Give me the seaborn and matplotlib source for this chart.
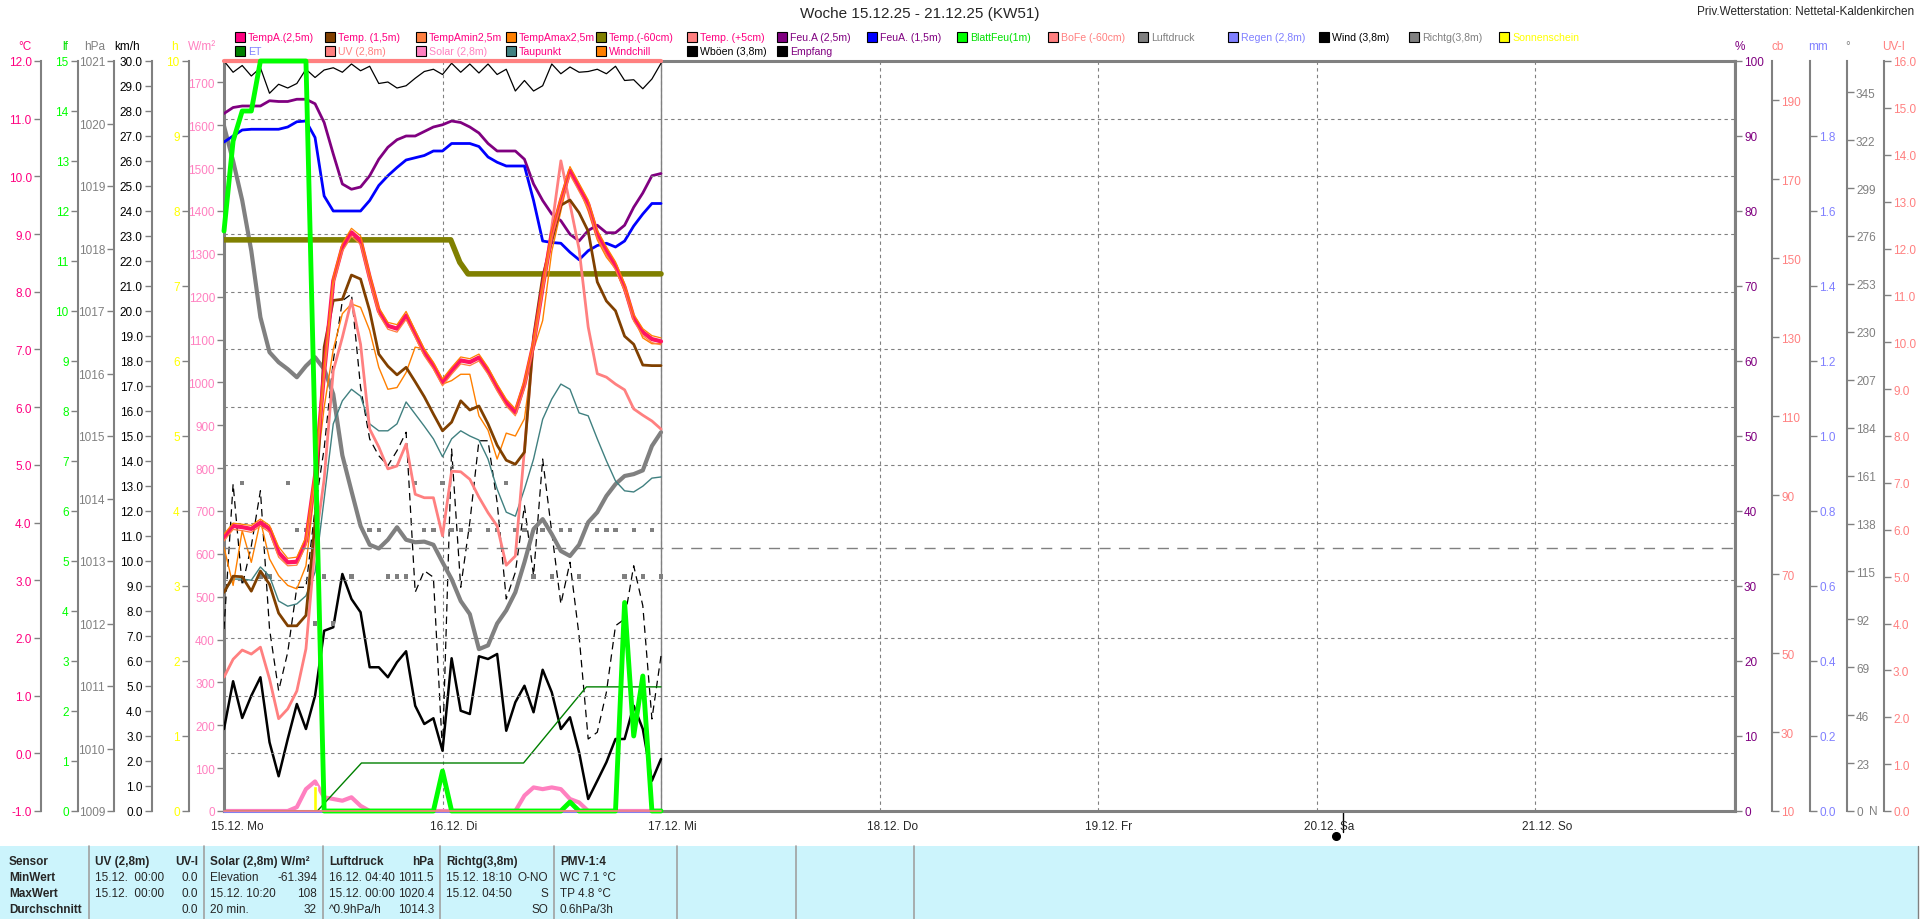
import numpy as np
import pandas as pd
import matplotlib
matplotlib.use("Agg")
import matplotlib.pyplot as plt
import matplotlib.transforms as mtransforms
from matplotlib.patches import Rectangle
from matplotlib.lines import Line2D
import seaborn as sns

# ==========================================
# DATA (hourly values 15.12. 00:00 - 17.12. 00:00)
# ==========================================
HOURS = list(range(49))

TEMP_A = [3.74, 3.94, 3.92, 3.89, 4.00, 3.89, 3.48, 3.31, 3.32, 3.68, 4.81, 6.61, 8.19, 8.77, 9.03, 8.89, 8.25,
          7.67, 7.41, 7.36, 7.59, 7.27, 6.95, 6.72, 6.43, 6.63, 6.81, 6.78, 6.86, 6.63, 6.34, 6.08, 5.91, 6.40,
          7.10, 8.08, 9.00, 9.58, 10.10, 9.81, 9.52, 9.00, 8.71, 8.45, 8.08, 7.55, 7.30, 7.18, 7.14]
TEMP_AMAX = [3.80, 3.99, 3.97, 3.95, 4.06, 3.95, 3.58, 3.38, 3.40, 3.75, 4.90, 6.70, 8.26, 8.84, 9.10, 8.97, 8.32,
             7.73, 7.47, 7.43, 7.66, 7.33, 7.01, 6.78, 6.49, 6.69, 6.87, 6.84, 6.92, 6.69, 6.40, 6.14, 5.97, 6.47,
             7.18, 8.15, 9.07, 9.65, 10.17, 9.88, 9.59, 9.07, 8.78, 8.52, 8.14, 7.61, 7.36, 7.24, 7.20]
TEMP_AMIN = [3.68, 3.88, 3.86, 3.83, 3.94, 3.83, 3.40, 3.25, 3.26, 3.60, 4.70, 6.50, 8.12, 8.70, 8.96, 8.82, 8.18,
             7.61, 7.35, 7.30, 7.52, 7.21, 6.89, 6.66, 6.37, 6.57, 6.75, 6.72, 6.80, 6.57, 6.28, 6.02, 5.85, 6.33,
             7.02, 8.00, 8.93, 9.51, 10.03, 9.74, 9.45, 8.93, 8.64, 8.38, 8.02, 7.49, 7.24, 7.12, 7.08]
TEMP_15 = [2.79, 3.07, 3.06, 2.81, 3.16, 2.93, 2.43, 2.21, 2.21, 2.39, 4.00, 7.04, 7.85, 7.87, 8.29, 8.22, 7.67,
           6.92, 6.71, 6.56, 6.69, 6.44, 6.18, 5.88, 5.59, 5.74, 6.11, 5.95, 6.02, 5.71, 5.34, 5.08, 5.01, 5.22,
           7.22, 8.26, 8.88, 9.50, 9.59, 9.37, 9.05, 8.17, 7.84, 7.67, 7.23, 7.09, 6.73, 6.72, 6.72]
TEMP_5CM = [1.32, 1.63, 1.79, 1.72, 1.84, 1.29, 0.60, 0.77, 1.08, 1.81, 3.59, 4.75, 6.63, 7.21, 7.85, 7.09, 5.62,
            5.31, 4.93, 4.98, 5.36, 4.49, 4.43, 4.43, 3.77, 4.89, 4.88, 4.75, 4.44, 4.17, 3.94, 3.26, 3.42, 5.27,
            7.15, 8.05, 9.12, 10.27, 9.52, 8.74, 7.39, 6.58, 6.52, 6.40, 6.30, 5.97, 5.86, 5.76, 5.62]
TAUPUNKT = [2.79, 3.02, 3.02, 3.00, 3.23, 3.07, 2.64, 2.55, 2.59, 2.73, 3.14, 4.41, 5.71, 6.11, 6.31, 6.19, 5.71,
            5.59, 5.59, 5.71, 6.09, 5.88, 5.67, 5.45, 5.14, 5.45, 5.59, 5.50, 5.43, 5.10, 4.58, 4.18, 4.11, 4.58,
            5.10, 5.79, 6.14, 6.40, 6.31, 5.90, 5.85, 5.45, 5.07, 4.72, 4.55, 4.53, 4.63, 4.77, 4.79]
WINDCHILL = [3.57, 2.91, 3.86, 3.31, 4.03, 3.37, 3.08, 2.91, 2.85, 3.25, 4.64, 6.00, 7.00, 7.62, 7.79, 7.73, 7.33,
             6.69, 6.31, 6.34, 6.60, 7.04, 7.01, 6.75, 6.40, 6.46, 6.57, 6.57, 5.85, 5.60, 5.10, 5.55, 5.50, 5.80,
             7.00, 7.50, 8.70, 9.40, 10.10, 9.80, 9.40, 8.90, 8.60, 8.40, 8.00, 7.55, 7.20, 7.10, 7.10]
FEU_25 = [93.0, 93.8, 94.0, 94.0, 94.0, 94.7, 94.6, 94.6, 94.9, 94.9, 94.3, 91.8, 87.6, 83.6, 82.9, 83.2, 84.7,
          86.9, 88.5, 89.5, 90.0, 90.0, 90.6, 91.2, 91.5, 92.0, 91.8, 91.2, 90.4, 89.0, 88.0, 88.0, 88.0, 86.9,
          83.6, 81.4, 79.6, 78.7, 76.9, 76.0, 77.4, 78.1, 77.1, 77.1, 78.1, 80.5, 82.4, 84.7, 85.0]
FEU_15 = [89.2, 90.0, 90.8, 90.9, 90.9, 90.9, 90.9, 91.2, 91.9, 92.0, 89.8, 82.0, 80.0, 80.0, 80.0, 80.0, 81.4,
          83.4, 84.7, 85.8, 86.8, 87.1, 87.4, 88.0, 88.0, 89.0, 89.0, 89.0, 88.6, 87.2, 86.5, 86.0, 86.0, 86.0,
          81.4, 76.0, 75.8, 75.7, 74.5, 73.5, 74.7, 75.4, 75.7, 75.2, 76.0, 78.0, 79.6, 81.0, 81.0]
EMPFANG = [100.0, 98.5, 99.4, 98.0, 99.1, 95.7, 96.9, 96.4, 97.0, 98.9, 97.8, 98.8, 99.1, 98.5, 99.6, 98.7, 99.3,
           97.0, 97.2, 96.4, 96.7, 97.7, 98.6, 98.9, 98.2, 99.7, 98.5, 99.6, 98.4, 99.6, 98.2, 98.9, 96.0, 97.4,
           96.0, 96.7, 99.6, 98.3, 99.2, 98.5, 98.6, 98.9, 98.3, 99.3, 97.4, 97.5, 96.3, 97.6, 99.7]
LUFTDRUCK = [1019.96, 1019.40, 1018.77, 1017.96, 1016.90, 1016.34, 1016.18, 1016.07, 1015.94, 1016.12, 1016.26,
             1016.07, 1015.67, 1014.69, 1014.12, 1013.56, 1013.26, 1013.20, 1013.34, 1013.54, 1013.34, 1013.30,
             1013.31, 1013.26, 1012.98, 1012.71, 1012.36, 1012.15, 1011.59, 1011.65, 1012.00, 1012.21, 1012.50,
             1012.98, 1013.51, 1013.67, 1013.43, 1013.16, 1013.08, 1013.26, 1013.62, 1013.78, 1014.04, 1014.23,
             1014.36, 1014.39, 1014.45, 1014.84, 1015.06]
WIND = [3.28, 5.19, 3.72, 4.61, 5.35, 2.75, 1.39, 2.88, 4.28, 3.28, 4.61, 7.21, 7.35, 9.48, 8.48, 7.95, 5.75, 5.75,
        5.35, 5.95, 6.39, 4.21, 3.48, 3.71, 2.41, 6.11, 4.01, 3.88, 6.19, 6.08, 6.28, 3.21, 4.35, 5.01, 3.95, 5.65,
        4.75, 3.28, 3.75, 2.35, 0.48, 1.21, 1.95, 2.88, 2.88, 4.21, 3.28, 1.21, 2.08]
WBOEEN = [7.28, 13.08, 9.01, 10.60, 12.81, 7.28, 4.81, 6.35, 8.95, 8.95, 12.08, 14.50, 18.00, 20.41, 20.68, 16.95,
          14.88, 14.21, 13.81, 14.41, 15.15, 8.75, 9.61, 9.35, 2.35, 14.48, 8.95, 11.55, 14.81, 14.81, 12.35, 8.48,
          9.55, 12.21, 9.41, 14.08, 11.15, 8.28, 9.95, 7.01, 2.88, 3.15, 4.75, 7.41, 7.68, 9.81, 8.21, 3.68, 6.21]
RICHTG = [np.nan, np.nan, 157.5, np.nan, 112.5, 112.5, np.nan, 157.5, 135, 135, 90, 112.5, 90, np.nan, 112.5,
          np.nan, 135, 135, 112.5, 112.5, 112.5, 157.5, 135, 135, 157.5, 135, 135, 135, np.nan, 135, 135, 157.5,
          135, 135, 112.5, 135, 112.5, 135, 135, 112.5, np.nan, 135, 135, 135, 112.5, 135, 112.5, 135, 112.5]
BLATTFEU = [11.6, 13.4, 14.0, 14.0, 15.0, 15.0, 15.0, 15.0, 15.0, 15.0, 7.5,
            0, 0, 0, 0, 0, 0, 0, 0, 0, 0, 0, 0, 0,
            0.8,
            0, 0, 0, 0, 0, 0, 0, 0, 0, 0, 0, 0, 0,
            0.18,
            0, 0, 0, 0, 0,
            4.17, 1.5, 2.7, 0, 0]
SOLAR = [0, 0, 0, 0, 0, 0, 0, 0, 9, 51, 69, 32, 28, 24, 32, 12,
         0, 0, 0, 0, 0, 0, 0, 0, 0, 0, 0, 0, 0, 0, 0, 0, 0,
         36, 55, 51, 55, 51, 28, 20,
         0, 0, 0, 0, 0, 0, 0, 0, 0]

# series with their own time stamps (hours)
TEMP_60_H = [0, 24.9, 25.9, 26.8, 48]
TEMP_60 = [8.90, 8.90, 8.51, 8.31, 8.31]
ET_H = [0, 10.25, 15.1, 32.9, 39.8, 48]
ET = [0.0, 0.0, 0.128, 0.128, 0.331, 0.331]
BOFE_H = [0, 48]
BOFE = [200, 200]
REGEN_H = [0, 48]
REGEN = [0.0, 0.0]
UV_H = [0, 48]
UV = [0.0, 0.0]
SUN_H = [10.0]
SUN = [0.33]

MOON_DAY = 5.12
REF_TEMP = 3.56
DATA_END_DAY = 2.0
X_MAX = 6.915

DAY_LABELS = ['15.12. Mo', '16.12. Di', '17.12. Mi', '18.12. Do', '19.12. Fr', '20.12. Sa', '21.12. So']

LEGEND_ROW1 = [('TempA.(2,5m)', '#FF0080', '#FF0080'), ('Temp. (1,5m)', '#804000', '#FF0080'),
               ('TempAmin2,5m', '#FF8040', '#FF0080'), ('TempAmax2,5m', '#FF8000', '#FF0080'),
               ('Temp.(-60cm)', '#808000', '#FF0080'), ('Temp. (+5cm)', '#FF8080', '#FF0080'),
               ('Feu.A (2,5m)', '#800080', '#800080'), ('FeuA. (1,5m)', '#0000FF', '#800080'),
               ('BlattFeu(1m)', '#00FF00', '#00E000'), ('BoFe (-60cm)', '#FF8080', '#FF8080'),
               ('Luftdruck', '#808080', '#808080'), ('Regen (2,8m)', '#8080FF', '#8080FF'),
               ('Wind (3,8m)', '#000000', '#000000'), ('Richtg(3,8m)', '#808080', '#808080'),
               ('Sonnenschein', '#FFFF00', '#FFFF00')]
LEGEND_ROW2 = [('ET', '#008000', '#8080FF'), ('UV (2,8m)', '#FF8080', '#FF8080'),
               ('Solar (2,8m)', '#FF80C0', '#FF80C0'), ('Taupunkt', '#408080', '#FF0080'),
               ('Windchill', '#FF8000', '#FF0080'), ('Wböen (3,8m)', '#000000', '#000000'),
               ('Empfang', '#000000', '#800080')]

TABLE_SEPS = [89, 204, 323, 440, 554, 677, 796, 914]
TABLE_ROWS = ['Sensor', 'MinWert', 'MaxWert', 'Durchschnitt']
TABLE_COLS = [
    (('UV (2,8m)', 'UV-I'), [('15.12.  00:00', '0.0'), ('15.12.  00:00', '0.0'), ('', '0.0')]),
    (('Solar (2,8m) W/m²', ''), [('Elevation', '-61.394'), ('15.12. 10:20', '108'), ('20 min.', '32')]),
    (('Luftdruck', 'hPa'), [('16.12. 04:40', '1011.5'), ('15.12. 00:00', '1020.4'), ('^0.9hPa/h', '1014.3')]),
    (('Richtg(3,8m)', ''), [('15.12. 18:10', 'O-NO'), ('15.12. 04:50', 'S'), ('', 'SO')]),
    (('PMV-1:4', ''), [('WC 7.1 °C', ''), ('TP 4.8 °C', ''), ('0.6hPa/3h', '')]),
]

# ==========================================
# STYLE
# ==========================================
sns.set_style("white")
plt.rcParams['font.family'] = ['Liberation Sans Narrow', 'Liberation Sans', 'DejaVu Sans']
plt.rcParams['axes.unicode_minus'] = False

W, H = 1920, 920
L, R, T, B = 224, 1735, 62, 812
GRAY = '#808080'
FS = 8.5


def fx(x):
    return x / W


def fy(y):
    return 1 - y / H


df = pd.DataFrame({'Tag': [h / 24 for h in HOURS], 'TempA': TEMP_A, 'TempAmax': TEMP_AMAX,
                   'TempAmin': TEMP_AMIN, 'Temp15': TEMP_15, 'Temp5': TEMP_5CM, 'Taupunkt': TAUPUNKT,
                   'Windchill': WINDCHILL, 'Feu25': FEU_25, 'Feu15': FEU_15, 'Empfang': EMPFANG,
                   'Luftdruck': LUFTDRUCK, 'Wind': WIND, 'Wboeen': WBOEEN, 'Richtg': RICHTG,
                   'BlattFeu': BLATTFEU, 'Solar': SOLAR})

fig = plt.figure(figsize=(19.2, 9.2), dpi=100)
ax = fig.add_axes([fx(L), fy(B), (R - L) / W, (B - T) / H])
ax.set_xlim(0, X_MAX)
ax.set_ylim(0, 1750)


def make_axis(side, x_px, lo, hi, ticks, fmt, color):
    a = ax.twinx()
    a.set_ylim(lo, hi)
    for s in a.spines.values():
        s.set_visible(False)
    sp = a.spines[side]
    sp.set_visible(True)
    sp.set_position(('axes', (x_px - L) / (R - L)))
    sp.set_color(GRAY)
    sp.set_linewidth(1.5)
    a.yaxis.set_ticks_position(side)
    a.set_yticks(list(ticks))
    a.set_yticklabels([fmt.format(v) for v in ticks])
    a.tick_params(axis='y', direction='out', length=5, width=1, color=GRAY,
                  labelcolor=color, labelsize=FS, pad=1.5)
    return a


# axes in drawing order
ax_h = make_axis('left', 188.7, 0, 10, list(range(11)), '{:d}', '#FFFF00')
ax_kmh = make_axis('left', 151.7, 0, 30, [float(v) for v in range(31)], '{:.1f}', 'black')
ax_deg = make_axis('right', 1847, 0, 360, list(range(0, 346, 23)), '{:d}', GRAY)
ax_hpa = make_axis('left', 114, 1009, 1021, list(range(1009, 1022)), '{:d}', GRAY)
ax_mm = make_axis('right', 1810, 0, 2.0, [i / 5 for i in range(10)], '{:.1f}', '#8080FF')
ax_pct = make_axis('right', 1735, 0, 100, list(range(0, 101, 10)), '{:d}', '#800080')
ax_c = make_axis('left', 40.7, -1, 12, list(range(-1, 13)), '{:.1f}', '#FF0080')
ax_cb = make_axis('right', 1772, 10, 200, list(range(10, 200, 20)), '{:d}', '#FF8080')
ax_lf = make_axis('left', 77.7, 0, 15, list(range(16)), '{:d}', '#00FF00')
ax_uv = make_axis('right', 1884, 0, 16, [float(v) for v in range(17)], '{:.1f}', '#FF8080')

# main axis (W/m2) + frame
ax.set_yticks(list(range(0, 1701, 100)))
ax.tick_params(axis='y', direction='out', length=5, width=1, color=GRAY,
               labelcolor='#FF80C0', labelsize=FS, pad=1.5)
ax.set_xticks(list(range(7)))
ax.set_xticklabels([])
ax.tick_params(axis='x', length=0)
ax.xaxis.grid(True, color=GRAY, ls=(0, (3, 3)), lw=0.8)
for s in ax.spines.values():
    s.set_color(GRAY)
    s.set_linewidth(2.2)
ax_c.yaxis.grid(True, color=GRAY, ls=(0, (3, 3)), lw=0.8)

# ==========================================
# SERIES
# ==========================================
sns.lineplot(data=df, x='Tag', y='Solar', ax=ax, color='#FF80C0', lw=3)
ax_h.bar([h / 24 for h in SUN_H], SUN, width=0.35 / 24, color='#FFFF00')
ax_h.axhline(0, xmin=0, xmax=DATA_END_DAY / X_MAX, color='#FFFF00', ls=(0, (3, 3)), lw=2)

sns.lineplot(data=df, x='Tag', y='Wind', ax=ax_kmh, color='black', lw=1.8)
sns.lineplot(data=df, x='Tag', y='Wboeen', ax=ax_kmh, color='black', lw=0.9, linestyle=(0, (6, 4)))
sns.scatterplot(data=df, x='Tag', y='Richtg', ax=ax_deg, marker='s', s=10, color=GRAY, edgecolor='none')
sns.lineplot(data=df, x='Tag', y='Luftdruck', ax=ax_hpa, color=GRAY, lw=3)

sns.lineplot(x=[h / 24 for h in REGEN_H], y=REGEN, ax=ax_mm, color='#8080FF', lw=2, clip_on=False)
sns.lineplot(x=[h / 24 for h in ET_H], y=ET, ax=ax_mm, color='#008000', lw=1)

sns.lineplot(data=df, x='Tag', y='Empfang', ax=ax_pct, color='black', lw=0.9)
sns.lineplot(data=df, x='Tag', y='Feu25', ax=ax_pct, color='#800080', lw=2)
sns.lineplot(data=df, x='Tag', y='Feu15', ax=ax_pct, color='#0000FF', lw=2)

sns.lineplot(x=[h / 24 for h in TEMP_60_H], y=TEMP_60, ax=ax_c, color='#808000', lw=4)
sns.lineplot(data=df, x='Tag', y='Taupunkt', ax=ax_c, color='#408080', lw=1)
sns.lineplot(data=df, x='Tag', y='Windchill', ax=ax_c, color='#FF8000', lw=1)
sns.lineplot(data=df, x='Tag', y='Temp5', ax=ax_c, color='#FF8080', lw=2)
sns.lineplot(data=df, x='Tag', y='Temp15', ax=ax_c, color='#804000', lw=2)
sns.lineplot(data=df, x='Tag', y='TempA', ax=ax_c, color='#FF1464', lw=3)
sns.lineplot(data=df, x='Tag', y='TempAmax', ax=ax_c, color='#FF8000', lw=0.9)
sns.lineplot(data=df, x='Tag', y='TempAmin', ax=ax_c, color='#FF8040', lw=0.9)
ax_c.axhline(REF_TEMP, color=GRAY, ls=(0, (8, 6)), lw=1)

sns.lineplot(x=[h / 24 for h in BOFE_H], y=BOFE, ax=ax_cb, color='#FF8080', lw=3, clip_on=False)
sns.lineplot(data=df, x='Tag', y='BlattFeu', ax=ax_lf, color='#00FF00', lw=3.5, clip_on=False)
sns.lineplot(x=[h / 24 for h in UV_H], y=UV, ax=ax_uv, color='#FF8080', lw=1.2, clip_on=False)

ax.axvline(DATA_END_DAY, color=GRAY, lw=1)

for a in [ax, ax_h, ax_kmh, ax_deg, ax_hpa, ax_mm, ax_pct, ax_c, ax_lf, ax_cb, ax_uv]:
    a.set_xlabel('')
    a.set_ylabel('')
ax.set_xlim(0, X_MAX)

# day labels along the x axis
for i, lab in enumerate(DAY_LABELS):
    ax.annotate(lab, xy=(i, 0), xycoords=('data', 'axes fraction'), xytext=(-13, -15),
                textcoords='offset pixels', ha='left', va='center', fontsize=FS)

# moon phase marker
trans = mtransforms.blended_transform_factory(ax.transData, ax.transAxes)
ax.plot([MOON_DAY, MOON_DAY], [0, -0.028], transform=trans, color='black', lw=1, clip_on=False)
ax.plot([MOON_DAY - 0.03], [-0.033], transform=trans, marker='o', ms=5.5, color='black', clip_on=False)

# ==========================================
# TEXTS, UNITS, LEGEND
# ==========================================
fig.text(fx(920), fy(14), 'Woche 15.12.25 - 21.12.25 (KW51)', ha='center', va='center', fontsize=11)
fig.text(fx(1914), fy(12), 'Priv.Wetterstation: Nettetal-Kaldenkirchen', ha='right', va='center', fontsize=FS)

units = [('°C', 25, '#FF0080'), ('lf', 65, '#00E000'), ('hPa', 95, GRAY), ('km/h', 127, 'black'),
         ('h', 174, '#FFFF00'), ('W/m²', 202, '#FF80C0'), ('%', 1740, '#800080'), ('cb', 1778, '#FF8080'),
         ('mm', 1818, '#8080FF'), ('°', 1848, GRAY), ('UV-I', 1894, '#FF8080')]
for txt, x, col in units:
    fig.text(fx(x), fy(47), txt, ha='center', va='center', fontsize=FS, color=col)
fig.text(fx(1873), fy(812), 'N', ha='center', va='center', fontsize=FS, color=GRAY)

for row_y, entries in [(38, LEGEND_ROW1), (52, LEGEND_ROW2)]:
    for i, (name, box, tcol) in enumerate(entries):
        x0 = 240 + 90.3 * i
        fig.add_artist(Rectangle((fx(x0 - 5), fy(row_y + 5)), 10 / W, 10 / H, transform=fig.transFigure,
                                 facecolor=box, edgecolor='black', lw=0.8))
        fig.text(fx(x0 + 8), fy(row_y), name, ha='left', va='center', fontsize=7.6, color=tcol)

# ==========================================
# TABLE
# ==========================================
fig.add_artist(Rectangle((0, 0), 1918 / W, fy(847), transform=fig.transFigure,
                         facecolor='#CCF4FC', edgecolor='none'))
fig.add_artist(Line2D([fx(1918)] * 2, [0, fy(847)], transform=fig.transFigure, color=GRAY, lw=1))
for x in TABLE_SEPS:
    fig.add_artist(Line2D([fx(x)] * 2, [0, fy(847)], transform=fig.transFigure, color='#A0A0A0', lw=1.2))

row_ys = [862, 878, 894, 910]
for lab, y in zip(TABLE_ROWS, row_ys):
    fig.text(fx(9), fy(y), lab, ha='left', va='center', fontsize=FS, fontweight='bold')
for c, (head, rows) in enumerate(TABLE_COLS):
    x_left = TABLE_SEPS[c] + 6
    x_right = TABLE_SEPS[c + 1] - 6
    fig.text(fx(x_left), fy(row_ys[0]), head[0], ha='left', va='center', fontsize=FS, fontweight='bold')
    fig.text(fx(x_right), fy(row_ys[0]), head[1], ha='right', va='center', fontsize=FS, fontweight='bold')
    for (left, right), y in zip(rows, row_ys[1:]):
        fig.text(fx(x_left), fy(y), left, ha='left', va='center', fontsize=FS)
        fig.text(fx(x_right), fy(y), right, ha='right', va='center', fontsize=FS)

fig.savefig('out.png', dpi=100)
